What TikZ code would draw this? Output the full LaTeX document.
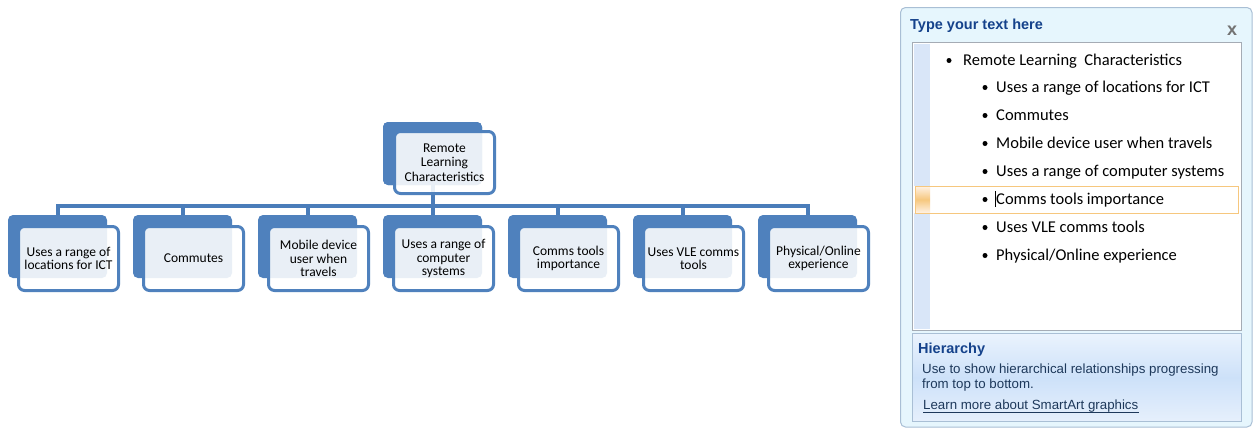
\documentclass[tikz,border=0pt]{standalone}
\usepackage{fontspec}
\setmainfont{Carlito}
\newfontfamily\uifont{Liberation Sans}
\definecolor{nodeblue}{HTML}{4F81BD}
\definecolor{connblue}{HTML}{4A7DBA}
\definecolor{titleblue}{HTML}{15428B}
\definecolor{descblue}{HTML}{1E395B}
\definecolor{panelbg}{HTML}{E6F6FD}
\definecolor{panelborder}{HTML}{A9BFD5}
\definecolor{areaborder}{HTML}{A5ACB5}
\definecolor{stripblue}{HTML}{D9E6F8}
\definecolor{hiorange}{HTML}{F6C77E}
\definecolor{hiertop}{HTML}{EAF3FD}
\definecolor{hiermid}{HTML}{CDE1F9}
\definecolor{hierbot}{HTML}{E6F0FC}
\newcommand{\nodetext}{\fontsize{13.5}{13.5}\selectfont}
\newcommand{\listtext}{\fontsize{16.5}{18}\selectfont}
\tikzset{
  darkbox/.style={fill=nodeblue, rounded corners=5pt, inner sep=0pt, minimum width=99pt, minimum height=63pt},
  frontbox/.style={draw=nodeblue, line width=3pt, fill=white, fill opacity=0.88, text opacity=1,
    rounded corners=6pt, inner sep=0pt, minimum width=100pt, minimum height=64pt, align=center, font=\nodetext},
  conn/.style={draw=connblue, line width=4pt, line join=miter},
  bulletdot/.style={circle, fill=black, inner sep=0pt, minimum size=5pt},
  itemtext/.style={anchor=base west, inner sep=0pt, font=\listtext},
}
\begin{document}
\begin{tikzpicture}[x=1pt, y=-1pt]
\useasboundingbox (0,0) rectangle (1256,429);
\fill[white] (0,0) rectangle (1256,429);
% ---------- hierarchy diagram ----------
\coordinate (bar) at (0,206);
\node[darkbox] (topb) at (432.5,153.5) {};
\foreach \i in {0,...,6} {
  \node[darkbox] (cb\i) at (57.5+125*\i,246.5) {};
}
\foreach \i in {0,...,6} {
  \draw[conn] (topb.south) -- (topb.south |- bar) -| (cb\i.north);
}
\node[darkbox] at (topb) {};
\node[frontbox, minimum height=62pt, font=\fontsize{13.5}{14.5}\selectfont] (top) at (444.5,162.5) {Remote\\Learning\\Characteristics};
\node[frontbox] (c0) at (68.5,258.5) {Uses a range of\\locations for ICT};
\node[frontbox] (c1) at (193.5,258.5) {Commutes};
\node[frontbox] (c2) at (318.5,258.5) {Mobile device\\user when\\travels};
\node[frontbox] (c3) at (443.5,258.5) {Uses a range of\\computer\\systems};
\node[frontbox] (c4) at (568.5,258.5) {Comms tools\\importance};
\node[frontbox] (c5) at (693.5,258.5) {Uses VLE comms\\tools};
\node[frontbox] (c6) at (818.5,258.5) {Physical/Online\\experience};
% ---------- text pane ----------
\draw[fill=panelbg, draw=panelborder, line width=1pt, rounded corners=5pt] (900.5,7.5) rectangle (1252,427);
\node[anchor=base west, inner sep=0pt, font=\uifont\bfseries\fontsize{14.5}{16}\selectfont, text=titleblue] (title) at (910,29) {Type your text here};
\node[anchor=base, inner sep=0pt, font=\uifont\bfseries\fontsize{18}{18}\selectfont, text=black!55] (close) at (1232,35) {x};
\draw[fill=white, draw=areaborder, line width=1pt] (912.5,42.5) rectangle (1241.5,330.5);
\fill[stripblue] (914,44) rectangle (930,329);
% highlight row
\fill[white] (914,186) rectangle (930,213);
\shade[top color=orange!10, bottom color=orange!10, middle color=hiorange] (915,186) rectangle (930,213);
\draw[draw=hiorange, line width=1pt] (915,186) rectangle (1238,213.5);
% items
\node[bulletdot] (b0) at (949,60.5) {};
\node[itemtext] (t0) at (963,65.5) {Remote Learning\ \ Characteristics};
\node[bulletdot] (b1) at (985,87.5) {};
\node[itemtext] (t1) at (996,92.5) {Uses a range of locations for ICT};
\node[bulletdot] (b2) at (985,115.5) {};
\node[itemtext] (t2) at (996,120.5) {Commutes};
\node[bulletdot] (b3) at (985,143.5) {};
\node[itemtext] (t3) at (996,148.5) {Mobile device user when travels};
\node[bulletdot] (b4) at (985,171.5) {};
\node[itemtext] (t4) at (996,176.5) {Uses a range of computer systems};
\node[bulletdot] (b5) at (985,199.5) {};
\node[itemtext] (t5) at (996,204.5) {Comms tools importance};
\draw[black, line width=1pt] (995,191) -- (995,207);
\node[bulletdot] (b6) at (985,227.5) {};
\node[itemtext] (t6) at (996,232.5) {Uses VLE comms tools};
\node[bulletdot] (b7) at (985,255.5) {};
\node[itemtext] (t7) at (996,260.5) {Physical/Online experience};
% description box
\shade[top color=hiertop, bottom color=hierbot, middle color=hiermid] (912.5,333.5) rectangle (1241.5,421.5);
\draw[draw=panelborder, line width=1pt] (912.5,333.5) rectangle (1241.5,421.5);
\node[anchor=base west, inner sep=0pt, font=\uifont\bfseries\fontsize{14.5}{16}\selectfont, text=titleblue] (hier) at (918,353) {Hierarchy};
\node[anchor=base west, inner sep=0pt, font=\uifont\fontsize{13.3}{15}\selectfont, text=descblue] (desc1) at (922,373) {Use to show hierarchical relationships progressing};
\node[anchor=base west, inner sep=0pt, font=\uifont\fontsize{13.3}{15}\selectfont, text=descblue] (desc2) at (922,388) {from top to bottom.};
\node[anchor=base west, inner sep=0pt, font=\uifont\fontsize{13.3}{15}\selectfont, text=descblue] (link) at (923,409) {Learn more about SmartArt graphics};
\draw[descblue, line width=0.8pt] (link.base west) ++(0,3) -- ([yshift=-3pt]link.base east);
\end{tikzpicture}
\end{document}
